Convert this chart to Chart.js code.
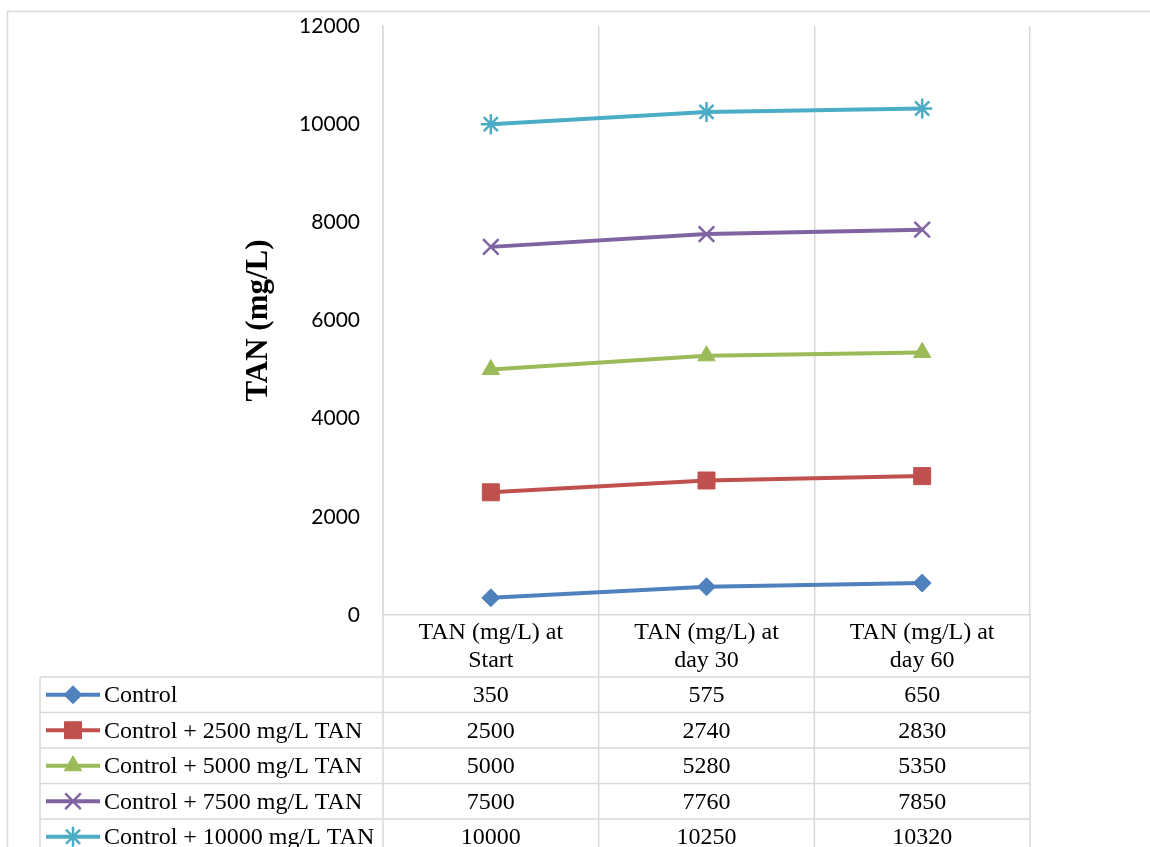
<!DOCTYPE html>
<html>
<head>
<meta charset="utf-8">
<script src="https://cdn.jsdelivr.net/npm/chart.js@4.4.0/dist/chart.umd.min.js"></script>
<style>
html, body { margin: 0; padding: 0; background: #fff; }
#wrap { width: 1150px; height: 847px; position: relative; }
</style>
</head>
<body>
<div id="wrap"><canvas id="c" width="1150" height="847"></canvas></div>
<script>
// data (the values also appear in the table under the chart)
var categories = [['TAN (mg/L) at', 'Start'], ['TAN (mg/L) at', 'day 30'], ['TAN (mg/L) at', 'day 60']];
var seriesNames = ['Control', 'Control + 2500 mg/L TAN', 'Control + 5000 mg/L TAN', 'Control + 7500 mg/L TAN', 'Control + 10000 mg/L TAN'];
var control = [350, 575, 650];
var tan2500 = [2500, 2740, 2830];
var tan5000 = [5000, 5280, 5350];
var tan7500 = [7500, 7760, 7850];
var tan10000 = [10000, 10250, 10320];
var yMin = 0, yMax = 12000, yStep = 2000;

var colors = ['#4f81bd', '#c0504d', '#9bbb59', '#8064a2', '#4bacc6'];
var markers = ['rectRot', 'rect', 'triangle', 'crossRot', 'star'];
var radii = [9, 12, 10, 11, 10];
var gridColor = '#d9d9d9';
var serif = '"Liberation Serif", "Times New Roman", serif';

var values = [control, tan2500, tan5000, tan7500, tan10000];

var datasets = values.map(function (v, i) {
  return {
    label: seriesNames[i],
    data: v,
    borderColor: colors[i],
    backgroundColor: colors[i],
    borderWidth: 4,
    pointStyle: markers[i],
    pointRadius: radii[i],
    pointBorderWidth: (markers[i] == 'crossRot' || markers[i] == 'star') ? 2.5 : 1,
    pointBackgroundColor: colors[i],
    pointBorderColor: colors[i],
    tension: 0
  };
});

// frame around the whole figure
var framePlugin = {
  id: 'frame',
  beforeDraw: function (chart) {
    var ctx = chart.ctx;
    ctx.save();
    ctx.strokeStyle = gridColor;
    ctx.lineWidth = 1.5;
    ctx.beginPath();
    ctx.moveTo(7.5, 847);
    ctx.lineTo(7.5, 11.5);
    ctx.lineTo(1150, 11.5);
    ctx.stroke();
    ctx.restore();
  }
};

// excel-style data table under the plot, lined up with the x scale
var tablePlugin = {
  id: 'dataTable',
  afterDraw: function (chart) {
    var ctx = chart.ctx;
    var area = chart.chartArea;
    var xs = chart.scales.x;
    var centers = categories.map(function (c, i) { return xs.getPixelForValue(i); });
    var half = (centers[1] - centers[0]) / 2;
    var headTop = area.bottom;
    var headBottom = headTop + 62;
    var rowH = 35.5;
    var tableBottom = headBottom + rowH * values.length;
    var keyLeft = 40;

    ctx.save();
    ctx.strokeStyle = gridColor;
    ctx.lineWidth = 1.5;
    ctx.beginPath();
    // column lines
    var bounds = [area.left].concat(centers.map(function (c) { return c + half; }));
    bounds.forEach(function (b) {
      ctx.moveTo(b, headTop);
      ctx.lineTo(b, tableBottom);
    });
    ctx.moveTo(keyLeft, headBottom);
    ctx.lineTo(keyLeft, tableBottom);
    // row lines
    for (var k = 0; k <= values.length; k++) {
      var y = headBottom + k * rowH;
      ctx.moveTo(keyLeft, y);
      ctx.lineTo(bounds[bounds.length - 1], y);
    }
    ctx.stroke();

    ctx.fillStyle = '#000';
    ctx.font = '24px ' + serif;
    ctx.textBaseline = 'middle';
    ctx.textAlign = 'center';
    categories.forEach(function (lines, i) {
      lines.forEach(function (t, j) {
        ctx.fillText(t, centers[i], headTop + 18 + j * 28);
      });
    });

    values.forEach(function (v, r) {
      var cy = headBottom + rowH * (r + 0.5);
      // legend key
      ctx.strokeStyle = colors[r];
      ctx.fillStyle = colors[r];
      ctx.lineWidth = 4;
      ctx.beginPath();
      ctx.moveTo(46, cy);
      ctx.lineTo(100, cy);
      ctx.stroke();
      ctx.lineWidth = datasets[r].pointBorderWidth;
      Chart.helpers.drawPoint(ctx, {
        pointStyle: markers[r],
        radius: radii[r],
        rotation: 0,
        borderWidth: datasets[r].pointBorderWidth
      }, 73, cy);

      ctx.fillStyle = '#000';
      ctx.textAlign = 'left';
      ctx.fillText(seriesNames[r], 104, cy + 1);
      ctx.textAlign = 'center';
      v.forEach(function (val, i) {
        ctx.fillText(String(val), centers[i], cy + 1);
      });
    });
    ctx.restore();
  }
};

new Chart(document.getElementById('c'), {
  type: 'line',
  data: {
    labels: categories.map(function (c) { return c.join(' '); }),
    datasets: datasets
  },
  options: {
    responsive: false,
    animation: false,
    layout: { padding: { left: 240, right: 120, top: 26, bottom: 232 } },
    plugins: {
      legend: { display: false },
      tooltip: { enabled: false }
    },
    scales: {
      x: {
        type: 'category',
        offset: true,
        grid: { offset: true, color: gridColor, lineWidth: 1.5, drawTicks: false },
        border: { color: gridColor, width: 1.5 },
        ticks: { display: false }
      },
      y: {
        min: yMin,
        max: yMax,
        afterFit: function (s) { s.width = 143; },
        // no horizontal gridlines; invisible tick marks keep the labels off the axis
        grid: { color: 'rgba(0,0,0,0)', drawTicks: true, tickLength: 23 },
        border: { color: gridColor, width: 1.5 },
        ticks: {
          stepSize: yStep,
          padding: 0,
          color: '#000',
          font: { family: 'Lato, "Open Sans", sans-serif', size: 21 },
          callback: function (v) { return String(v); }
        },
        title: {
          display: true,
          text: 'TAN (mg/L)',
          color: '#000',
          padding: 0,
          font: { family: serif, size: 31, weight: 'bold' }
        }
      }
    }
  },
  plugins: [framePlugin, tablePlugin]
});
</script>
</body>
</html>
